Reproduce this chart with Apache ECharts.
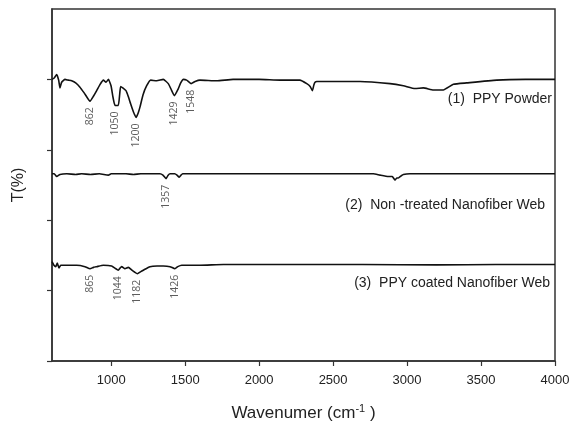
<!DOCTYPE html>
<html>
<head>
<meta charset="utf-8">
<script src="https://cdn.jsdelivr.net/npm/echarts@6/dist/echarts.min.js"></script>
<style>
  html, body { margin: 0; padding: 0; background: #fff; }
  #chart { width: 570px; height: 423px; }
</style>
</head>
<body>
<div id="chart"></div>
<script>
// x 轴刻度
const xTicks = [1000, 1500, 2000, 2500, 3000, 3500, 4000];
const yTicks = [0, 1, 2, 3, 4];

// (1) PPY Powder
const ppyWave = [600, 615, 632, 645, 654, 665, 688, 710, 733, 760, 789, 820, 857, 880, 902, 925, 947, 965, 981, 999,
  1012, 1026, 1048, 1058, 1064, 1078, 1100, 1115, 1132, 1150, 1168, 1182, 1195, 1215, 1240, 1267, 1308, 1352, 1386,
  1405, 1427, 1454, 1470, 1488, 1510, 1540, 1567, 1600, 1713, 1824, 2000, 2141, 2276, 2322, 2345, 2360, 2370, 2378,
  2390, 2682, 2885, 2975, 3054, 3110, 3178, 3245, 3313, 3403, 3606, 3800, 4000];
const ppyT = [4.00, 4.02, 4.07, 3.99, 3.88, 3.96, 4.00, 3.99, 3.98, 3.95, 3.89, 3.80, 3.69, 3.76, 3.84, 3.93, 3.99, 3.96, 4.00, 3.91,
  3.75, 3.63, 3.63, 3.80, 3.90, 3.88, 3.84, 3.76, 3.65, 3.54, 3.46, 3.52, 3.61, 3.78, 3.91, 3.99, 3.98, 4.00, 3.94,
  3.86, 3.77, 3.87, 3.95, 4.00, 3.99, 3.94, 3.97, 3.99, 3.98, 4.00, 4.00, 3.99, 3.99, 3.94, 3.90, 3.84, 3.92, 3.96,
  3.97, 3.97, 3.94, 3.91, 3.87, 3.88, 3.85, 3.85, 3.93, 3.95, 3.99, 4.00, 4.00];
const ppyPeaks = [862, 1050, 1200, 1429, 1548];

// (2) Non-treated Nanofiber Web
const webWave = [600, 615, 632, 654, 700, 760, 800, 860, 920, 981, 1000, 1100, 1150, 1200, 1330, 1350, 1371, 1385, 1398,
  1430, 1445, 1460, 1472, 1483, 2277, 2772, 2817, 2874, 2900, 2919, 2930, 2941, 2960, 2975, 3020, 3500, 4000];
const webT = [2.66, 2.66, 2.62, 2.65, 2.66, 2.65, 2.66, 2.65, 2.66, 2.64, 2.66, 2.66, 2.65, 2.66, 2.66, 2.64, 2.59, 2.64, 2.66,
  2.66, 2.64, 2.61, 2.64, 2.66, 2.66, 2.66, 2.64, 2.62, 2.62, 2.57, 2.60, 2.60, 2.63, 2.65, 2.66, 2.66, 2.66];
const webPeaks = [1357];

// (3) PPY coated Nanofiber Web
const coatWave = [600, 613, 625, 636, 647, 659, 677, 767, 823, 857, 880, 902, 947, 1003, 1025, 1048, 1060, 1071, 1093,
  1116, 1140, 1160, 1177, 1200, 1217, 1262, 1310, 1352, 1398, 1431, 1450, 1477, 1600, 1758, 2277, 2350, 2700, 3200,
  3600, 4000];
const coatT = [1.41, 1.36, 1.34, 1.39, 1.32, 1.36, 1.36, 1.36, 1.34, 1.31, 1.33, 1.34, 1.36, 1.35, 1.32, 1.29, 1.32, 1.34, 1.31,
  1.33, 1.29, 1.26, 1.24, 1.27, 1.29, 1.34, 1.35, 1.35, 1.34, 1.31, 1.34, 1.36, 1.36, 1.37, 1.37, 1.37, 1.37, 1.365,
  1.37, 1.37];
const coatPeaks = [865, 1044, 1182, 1426];

const zip = (xs, ys) => xs.map((x, i) => [x, ys[i]]);

// 峰值标注放在曲线最低点下方
function troughs(xs, ys, peaks) {
  return peaks.map(p => {
    let best = null;
    xs.forEach((x, i) => {
      if (Math.abs(x - p) <= 40 && (best === null || ys[i] < best[1])) best = [x, ys[i]];
    });
    return {value: best, name: String(p)};
  });
}

function lineSeries(xs, ys) {
  return {
    type: 'line', data: zip(xs, ys), showSymbol: false, smooth: 0.15,
    lineStyle: {color: '#111', width: 1.6}, silent: true
  };
}

function peakSeries(xs, ys, peaks) {
  return {
    type: 'scatter', data: troughs(xs, ys, peaks), symbolSize: 0, silent: true,
    label: {
      show: true, formatter: '{b}', position: 'inside', rotate: 90,
      align: 'right', verticalAlign: 'middle', padding: [0, 6, 0, 0],
      fontFamily: 'Open Sans', fontSize: 10.5, color: '#333'
    }
  };
}

const chart = echarts.init(document.getElementById('chart'));

const sideText = (text, right, y) => ({
  type: 'text', right: right, top: y - 7,
  style: {text: text, font: '14px "Liberation Sans"', fill: '#222'}
});

chart.setOption({
  animation: false,
  grid: {
    left: 52, right: 15, top: 9, bottom: 62, outerBoundsMode: 'none',
    show: true, borderColor: '#333', borderWidth: 1.5
  },
  xAxis: {
    type: 'value', min: 600, max: 4000,
    name: 'Wavenumer (cm{sup|-1} )', nameLocation: 'middle', nameGap: 42,
    nameTextStyle: {
      fontFamily: 'Liberation Sans', fontSize: 17, color: '#222',
      rich: {sup: {fontSize: 11, verticalAlign: 'top', padding: [0, 0, 10, 0], fontFamily: 'Liberation Sans', color: '#222'}}
    },
    axisLine: {lineStyle: {color: '#333', width: 1.5}},
    axisTick: {customValues: xTicks, length: 5, lineStyle: {color: '#333', width: 1.2}},
    axisLabel: {
      customValues: xTicks, formatter: v => String(v),
      fontFamily: 'Liberation Sans', fontSize: 13, color: '#222', margin: 13
    },
    splitLine: {show: false}
  },
  yAxis: {
    type: 'value', min: 0, max: 5, interval: 1,
    name: 'T(%)', nameLocation: 'middle', nameGap: 25,
    nameTextStyle: {fontFamily: 'Liberation Sans', fontSize: 16, color: '#222'},
    axisLine: {show: true, lineStyle: {color: '#333', width: 1.5}},
    axisTick: {show: true, customValues: yTicks, length: 5, lineStyle: {color: '#333', width: 1.2}},
    axisLabel: {show: false},
    splitLine: {show: false}
  },
  series: [
    lineSeries(ppyWave, ppyT),
    lineSeries(webWave, webT),
    lineSeries(coatWave, coatT),
    peakSeries(ppyWave, ppyT, ppyPeaks),
    peakSeries(webWave, webT, webPeaks),
    peakSeries(coatWave, coatT, coatPeaks)
  ],
  graphic: [
    sideText('(1)  PPY Powder', 18, 99),
    sideText('(2)  Non -treated Nanofiber Web', 25, 205),
    sideText('(3)  PPY coated Nanofiber Web', 20, 283)
  ]
});
</script>
</body>
</html>
